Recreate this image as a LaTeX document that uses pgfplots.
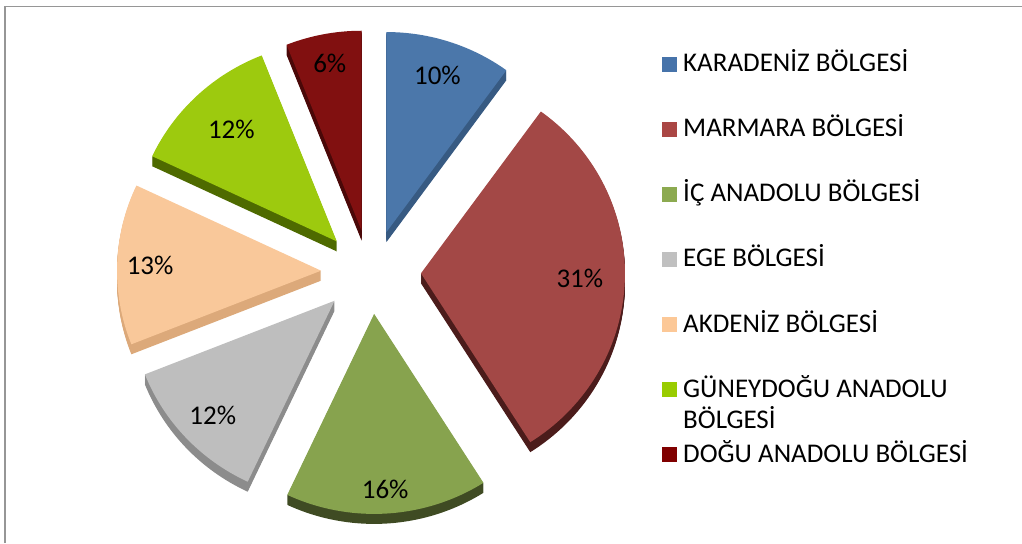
\documentclass[border=0pt]{standalone}
\usepackage{fontspec}
\setmainfont{Carlito}
\usepackage{pgfplots}
\usepackage{pgfplotstable}
\pgfplotsset{compat=1.18}
\definecolor{top0}{HTML}{4B77AA}\definecolor{side0}{HTML}{375A82}
\definecolor{top1}{HTML}{A34846}\definecolor{side1}{HTML}{4B1C1B}
\definecolor{top2}{HTML}{87A34E}\definecolor{side2}{HTML}{3F4B23}
\definecolor{top3}{HTML}{BEBEBE}\definecolor{side3}{HTML}{8C8C8C}
\definecolor{top4}{HTML}{F9C89A}\definecolor{side4}{HTML}{DCA97A}
\definecolor{top5}{HTML}{9DCA0E}\definecolor{side5}{HTML}{4E6A00}
\definecolor{top6}{HTML}{811010}\definecolor{side6}{HTML}{4A0808}
\definecolor{leg0}{HTML}{4673AA}
\definecolor{leg1}{HTML}{AA4644}
\definecolor{leg2}{HTML}{8CAA50}
\definecolor{leg3}{HTML}{C0C0C0}
\definecolor{leg4}{HTML}{FCC897}
\definecolor{leg5}{HTML}{99CC00}
\definecolor{leg6}{HTML}{800000}
\definecolor{framec}{HTML}{969696}
\newcommand\lblfont{\fontsize{27bp}{32bp}\selectfont}
% share of each region (%), label distance from slice tip
\pgfplotstableread{
idx pct lr
0 10 165
1 31 159
2 16 176
3 12 167
4 13 171
5 12 154
6 6 170
}\piedata
\begin{document}
\begin{tikzpicture}
\begin{axis}[scale only axis, width=1022bp, height=543bp,
  xmin=0, xmax=1022, ymin=0, ymax=543, hide axis, clip=false]
\pgfplotsextra{
  \gdef\cum{0}
  \foreach \i in {0,...,6}{
    \pgfplotstablegetelem{\i}{pct}\of\piedata \let\pct\pgfplotsretval
    \pgfplotstablegetelem{\i}{lr}\of\piedata \let\lr\pgfplotsretval
    \pgfmathsetmacro\ta{90-3.6*\cum}
    \pgfmathsetmacro\tb{90-3.6*(\cum+\pct)}
    \pgfmathsetmacro\tm{(\ta+\tb)/2}
    \pgfmathsetmacro\ax{371+50*cos(\tm)}
    \pgfmathsetmacro\ay{271+42*sin(\tm)}
    \pgfmathsetmacro\px{\ax+204*cos(\ta)}
    \pgfmathsetmacro\py{\ay+200*sin(\ta)}
    \pgfmathsetmacro\lx{\ax+\lr*cos(\tm)}
    \pgfmathsetmacro\ly{\ay+\lr*sin(\tm)}
    \foreach \kk in {10,9,...,1}{
      \fill[side\i, yshift=-\kk bp] (axis cs:\ax,\ay) -- (axis cs:\px,\py)
        arc[start angle=\ta, end angle=\tb, x radius=204bp, y radius=200bp] -- cycle;
    }
    \fill[top\i] (axis cs:\ax,\ay) -- (axis cs:\px,\py)
      arc[start angle=\ta, end angle=\tb, x radius=204bp, y radius=200bp] -- cycle;
    \node[font=\lblfont, text=black] at (axis cs:\lx,\ly) {\pct\%};
    \pgfmathsetmacro\nc{\cum+\pct}
    \xdef\cum{\nc}
  }
}
% frame
\draw[framec, line width=1.6bp] (axis cs:5,0) -- (axis cs:5,536.3) -- (axis cs:1022,536.3);
% legend
\fill[leg0] (axis cs:662,471) rectangle (axis cs:677,486);
\node[anchor=base west, font=\lblfont, inner sep=0pt] at (axis cs:683,471) {KARADENİZ BÖLGESİ};
\fill[leg1] (axis cs:662,406) rectangle (axis cs:677,421);
\node[anchor=base west, font=\lblfont, inner sep=0pt] at (axis cs:683,406) {MARMARA BÖLGESİ};
\fill[leg2] (axis cs:662,341) rectangle (axis cs:677,356);
\node[anchor=base west, font=\lblfont, inner sep=0pt] at (axis cs:683,341) {İÇ ANADOLU BÖLGESİ};
\fill[leg3] (axis cs:662,276) rectangle (axis cs:677,291);
\node[anchor=base west, font=\lblfont, inner sep=0pt] at (axis cs:683,276) {EGE BÖLGESİ};
\fill[leg4] (axis cs:662,211) rectangle (axis cs:677,226);
\node[anchor=base west, font=\lblfont, inner sep=0pt] at (axis cs:683,211) {AKDENİZ BÖLGESİ};
\fill[leg5] (axis cs:662,146) rectangle (axis cs:677,161);
\node[anchor=base west, font=\lblfont, inner sep=0pt] at (axis cs:683,146) {GÜNEYDOĞU ANADOLU};
\node[anchor=base west, font=\lblfont, inner sep=0pt] at (axis cs:683,115) {BÖLGESİ};
\fill[leg6] (axis cs:662,81) rectangle (axis cs:677,96);
\node[anchor=base west, font=\lblfont, inner sep=0pt] at (axis cs:683,81) {DOĞU ANADOLU BÖLGESİ};
\end{axis}
\pgfresetboundingbox
\path (current axis.south west) rectangle (current axis.north east);
\end{tikzpicture}
\end{document}
